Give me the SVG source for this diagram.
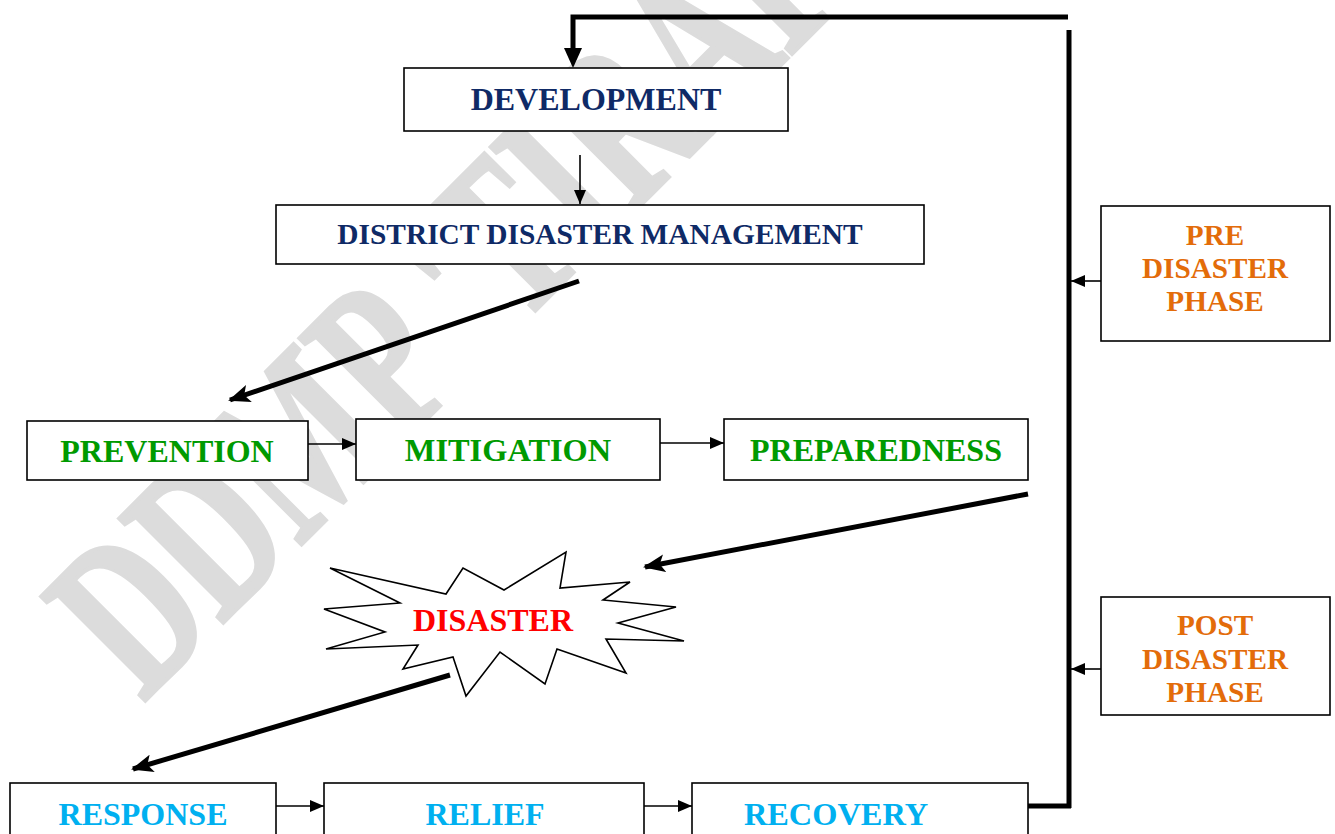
<svg xmlns="http://www.w3.org/2000/svg" width="1335" height="834" viewBox="0 0 1335 834">
<style>
.box{fill:#fff;stroke:#000;stroke-width:1.6}
.t{font-family:"Liberation Serif","Times New Roman",serif;font-weight:bold;text-anchor:middle}
.navy{fill:#0f2a66}
.green{fill:#009a00}
.cyan{fill:#00b0f0}
.orange{fill:#e36c0a}
.red{fill:#ff0000}
.thin{stroke:#000;stroke-width:1.6;fill:none}
.thick{stroke:#000;stroke-width:5;fill:none}
.wm{font-family:"Liberation Serif","Times New Roman",serif;font-weight:bold;fill:#dcdcdc;stroke:#dcdcdc;stroke-width:4}
</style>
<defs>
<marker id="ah" viewBox="0 0 14 12" refX="14" refY="6" markerWidth="14" markerHeight="12" markerUnits="userSpaceOnUse" orient="auto">
<path d="M0,0 L14,6 L0,12 Z" fill="#000"/>
</marker>
<marker id="ahb" viewBox="0 0 22 18" refX="20" refY="9" markerWidth="22" markerHeight="18" markerUnits="userSpaceOnUse" orient="auto">
<path d="M0,0 L22,9 L0,18 L5,9 Z" fill="#000"/>
</marker>
</defs>
<rect width="1335" height="834" fill="#fff"/>
<g id="watermark">
<text class="wm" font-size="225" transform="translate(143,703) rotate(-45) scale(0.68,1)">DDMP 'TIRAP'</text>
</g>
<g id="connectors">
<polyline class="thick" points="1068,17 573,17 573,50" stroke-width="4"/>
<path d="M564,48 L582,48 L573,68 Z" fill="#000"/>
<line class="thick" x1="1069" y1="30" x2="1069" y2="808" stroke-width="5"/>
<line class="thick" x1="1028" y1="806" x2="1071" y2="806" stroke-width="5"/>
<line class="thin" x1="580" y1="155" x2="580" y2="204" marker-end="url(#ah)"/>
<line class="thick" x1="579" y1="281" x2="230" y2="400" stroke-width="4.5" marker-end="url(#ahb)"/>
<line class="thin" x1="308" y1="444" x2="356" y2="444" marker-end="url(#ah)"/>
<line class="thin" x1="660" y1="443" x2="724" y2="443" marker-end="url(#ah)"/>
<line class="thick" x1="1028" y1="494" x2="645" y2="567" stroke-width="4.5" marker-end="url(#ahb)"/>
<line class="thick" x1="450" y1="675" x2="133" y2="769" stroke-width="4.5" marker-end="url(#ahb)"/>
<line class="thin" x1="276" y1="806" x2="324" y2="806" marker-end="url(#ah)"/>
<line class="thin" x1="644" y1="806" x2="692" y2="806" marker-end="url(#ah)"/>
<line class="thin" x1="1101" y1="281" x2="1071" y2="281" marker-end="url(#ah)"/>
<line class="thin" x1="1101" y1="669" x2="1071" y2="669" marker-end="url(#ah)"/>
</g>
<g id="development">
<rect class="box" x="404" y="68" width="384" height="63"/>
<text class="t navy" x="596" y="110" font-size="32">DEVELOPMENT</text>
</g>
<g id="ddm">
<rect class="box" x="276" y="205" width="648" height="59"/>
<text class="t navy" x="600" y="244" font-size="29.4">DISTRICT DISASTER MANAGEMENT</text>
</g>
<g id="prevention">
<rect class="box" x="27" y="421" width="281" height="59"/>
<text class="t green" x="167" y="462" font-size="32">PREVENTION</text>
</g>
<g id="mitigation">
<rect class="box" x="356" y="419" width="304" height="61"/>
<text class="t green" x="508" y="461" font-size="32.4">MITIGATION</text>
</g>
<g id="preparedness">
<rect class="box" x="724" y="419" width="304" height="61"/>
<text class="t green" x="876" y="461" font-size="32">PREPAREDNESS</text>
</g>
<g id="disaster">
<polygon fill="#fff" stroke="#000" stroke-width="1.6" stroke-linejoin="miter" points="330,568 446,594 463,568 504,590 566,552 560,588 630,582 603,600 676,607 618,623 684,641 606,639 626,673 557,649 545,684 500,652 466,696 453,657 403,669 418,645 326,649 385,632 324,609 400,603"/>
<text class="t red" x="493" y="631" font-size="32">DISASTER</text>
</g>
<g id="response">
<rect class="box" x="10" y="783" width="266" height="60"/>
<text class="t cyan" x="143" y="825" font-size="32">RESPONSE</text>
</g>
<g id="relief">
<rect class="box" x="324" y="783" width="320" height="60"/>
<text class="t cyan" x="485" y="825" font-size="32">RELIEF</text>
</g>
<g id="recovery">
<rect class="box" x="692" y="783" width="336" height="60"/>
<text class="t cyan" x="836" y="825" font-size="32.4">RECOVERY</text>
</g>
<g id="pre-phase">
<rect class="box" x="1101" y="206" width="229" height="135"/>
<text class="t orange" font-size="29.2"><tspan x="1215" y="245">PRE</tspan><tspan x="1215" y="278">DISASTER</tspan><tspan x="1215" y="311">PHASE</tspan></text>
</g>
<g id="post-phase">
<rect class="box" x="1101" y="597" width="229" height="118"/>
<text class="t orange" font-size="29.2"><tspan x="1215" y="635">POST</tspan><tspan x="1215" y="669">DISASTER</tspan><tspan x="1215" y="702">PHASE</tspan></text>
</g>
</svg>
